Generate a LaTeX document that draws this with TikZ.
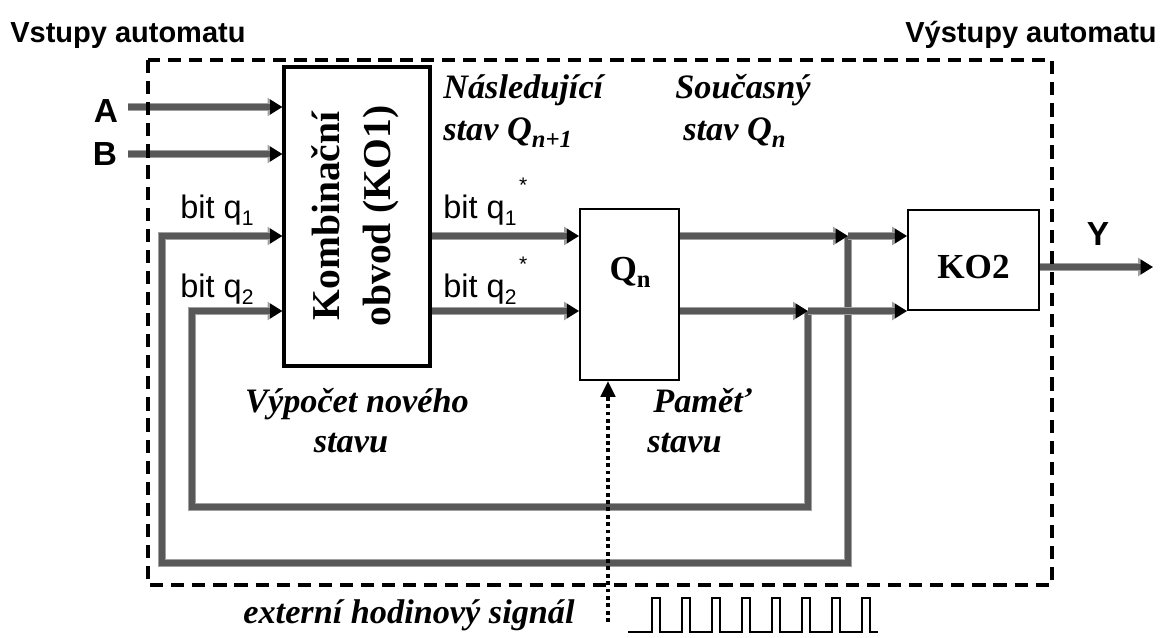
\documentclass[tikz,border=0pt]{standalone}
\usepackage{fontspec}
\setmainfont{Liberation Serif}
\setsansfont{Liberation Sans}
\usetikzlibrary{arrows.meta}
\newcommand{\mysub}[2]{\raisebox{-0.45ex}{\fontsize{#1}{#1}\selectfont #2}}
\newcommand{\myast}{\kern1.5pt\raisebox{1.5ex}{\fontsize{12}{12}\selectfont *}}
\definecolor{pipedark}{RGB}{88,88,88}
\definecolor{pipelight}{RGB}{160,160,160}
\begin{document}
\begin{tikzpicture}[x=0.02cm,y=-0.02cm,
  box/.style={draw, line width=1.1pt, inner sep=0pt, fill=white},
  pipe/.style={draw=pipedark, line width=3.8pt, line join=miter,
    preaction={draw=pipelight, line width=4.8pt, -{Triangle[length=8.5pt,width=10pt,color=pipelight]}}},
  pipetip/.style={-{Triangle[length=7pt,width=8pt,color=black]}},
  ital/.style={font=\fontsize{19.5}{23}\selectfont\bfseries\itshape, inner sep=0pt},
  sanslab/.style={font=\fontsize{18.5}{21}\selectfont\sffamily, inner sep=0pt},
  sansbold/.style={font=\fontsize{19}{21}\selectfont\sffamily\bfseries, inner sep=0pt},
  headlab/.style={font=\fontsize{16.5}{19}\selectfont\sffamily\bfseries, inner sep=0pt},
  serifbold/.style={font=\fontsize{20}{24}\selectfont\bfseries, inner sep=0pt},
  frame/.style={line width=1.8pt, dash pattern=on 7.5pt off 4.5pt},
  clockarrow/.style={line width=2.2pt, dash pattern=on 2.2pt off 2pt, -{Triangle[length=9pt,width=8pt]}},
  clocksig/.style={line width=1.1pt, line join=miter}
]
\useasboundingbox (0,0) rectangle (1169,637);

% boxes
\node[box, line width=1.8pt, minimum width=2.92cm, minimum height=5.98cm] (ko1) at (357,216.5) {};
\node[rotate=90, align=center, font=\fontsize{22.5}{29}\selectfont\bfseries, inner sep=0pt] (ko1t) at (355,216) {Kombinační\\obvod (KO1)};
\node[box, minimum width=1.98cm, minimum height=3.42cm] (qn) at (629.5,294.5) {};
\node[serifbold] (qnt) at (630,272) {Q\mysub{14}{n}};
\node[box, minimum width=2.62cm, minimum height=2cm] (ko2) at (973.5,260) {};
\node[serifbold] (ko2t) at (973.5,267) {KO2};

% coordinates
\coordinate (ain) at (128,107);
\coordinate (bin) at (128,154);
\coordinate (c1a) at (848,236);
\coordinate (c1b) at (848,563);
\coordinate (c1c) at (162,563);
\coordinate (c1d) at (162,236);
\coordinate (c2a) at (808,311);
\coordinate (c2b) at (808,507);
\coordinate (c2c) at (192,507);
\coordinate (c2d) at (192,311);
\coordinate (yout) at (1153,267);
\coordinate (clk) at (608,622);

% pipes
\draw[pipe,pipetip] (ain) -- (ain -| ko1.west);
\draw[pipe,pipetip] (bin) -- (bin -| ko1.west);
\draw[pipe,pipetip] (c2a) -- (c2b) -- (c2c) -- (c2d) -- (c2d -| ko1.west);
\draw[pipe,pipetip] (c1a) -- (c1b) -- (c1c) -- (c1d) -- (c1d -| ko1.west);
\draw[pipe,pipetip] (ko1.east |- c1a) -- (qn.west |- c1a);
\draw[pipe,pipetip] (ko1.east |- c2a) -- (qn.west |- c2a);
\draw[pipe,pipetip] (qn.east |- c1a) -- (c1a);
\draw[pipe,pipetip] (qn.east |- c2a) -- (c2a);
\draw[pipe,pipetip] (c1a) -- (ko2.west |- c1a);
\draw[pipe,pipetip] (c2a) -- (ko2.west |- c2a);
\draw[pipe,pipetip] (ko2.east |- yout) -- (yout);

% frame
\draw[frame] (148,60) rectangle (1052,585);

% clock
\draw[clockarrow] (clk) -- (clk |- qn.south);
\draw[clocksig] (628,632) \foreach \k in {0,...,7}{ -- ({652+30*\k},632) -- ({652+30*\k},598) -- ({660+30*\k},598) -- ({660+30*\k},632)} -- (878,632);

% labels
\node[headlab, anchor=base west] (vst) at (10,42) {Vstupy automatu};
\node[headlab, anchor=base east] (vyst) at (1157,42) {Výstupy automatu};
\node[sansbold, anchor=base] (la) at (106,122) {A};
\node[sansbold, anchor=base] (lb) at (105,165) {B};
\node[sansbold, anchor=base] (ly) at (1098,245) {Y};
\node[sanslab, anchor=base west] (lq1) at (180,218) {bit q\mysub{12}{1}};
\node[sanslab, anchor=base west] (lq2) at (180,297) {bit q\mysub{12}{2}};
\node[sanslab, anchor=base west] (lq1s) at (443,218) {bit q\mysub{12}{1}\myast};
\node[sanslab, anchor=base west] (lq2s) at (443,297) {bit q\mysub{12}{2}\myast};

\node[ital, anchor=base west] (nasl1) at (443,98) {Následující};
\node[ital, anchor=base west] (nasl2) at (443,140) {stav Q\mysub{14}{n+1}};
\node[ital, anchor=base west] (souc1) at (675,98) {Současný};
\node[ital, anchor=base west] (souc2) at (683,140) {stav Q\mysub{14}{n}};
\node[ital, anchor=base] (vyp1) at (357,412) {Výpočet nového};
\node[ital, anchor=base] (vyp2) at (351,452) {stavu};
\node[ital, anchor=base west] (pam1) at (653,412) {Paměť};
\node[ital, anchor=base west] (pam2) at (647,452) {stavu};
\node[ital, anchor=base] (ext) at (409,623) {externí hodinový signál};
\end{tikzpicture}
\end{document}
